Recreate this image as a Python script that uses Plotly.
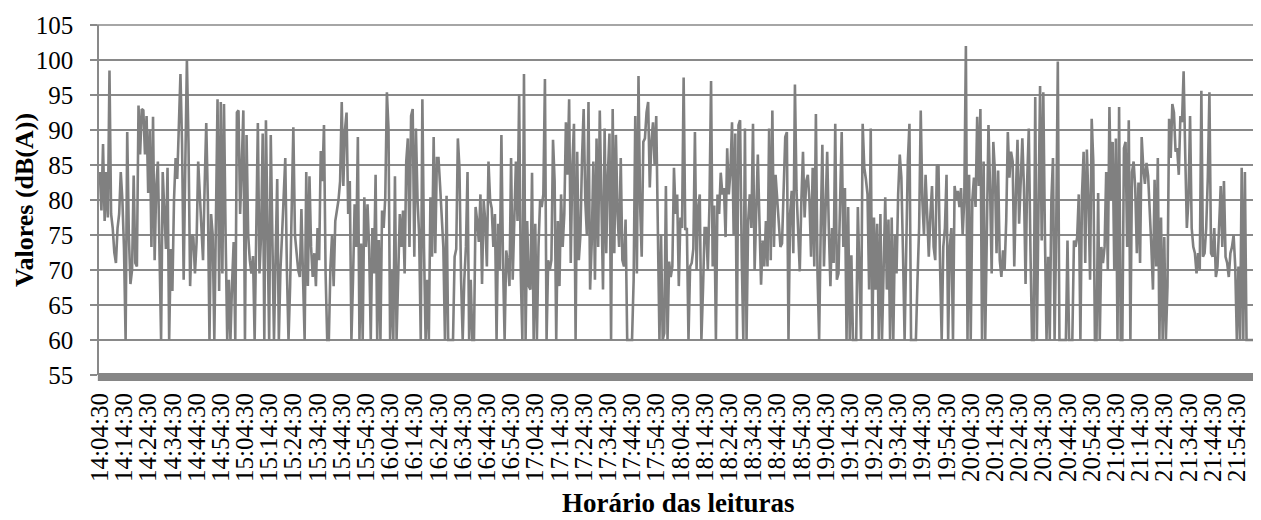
import datetime as dt
import plotly.graph_objects as go

# Noise readings, dB(A), one value every 40 s starting 14:04:30
seg1 = [84, 78.5, 88, 77, 84, 77.5, 98.5, 78, 76, 72.5,
        71, 76, 78, 84, 80, 73, 60, 89.7, 75, 68,
        70, 83.5, 71, 70.5, 93.5, 86.5, 93, 92.8, 86.5, 92,
        81, 90, 73.3, 91.9, 71.4, 82, 85.5, 72, 60, 84,
        78, 73, 84.6, 60, 73, 67, 80, 86, 83, 90,
        98, 88, 68.6, 85, 100, 88, 67.7, 75, 74.7, 69.5,
        74, 85.5, 80, 75, 71.4, 82, 91, 80, 60, 78,
        75, 60, 80, 94.4, 67, 94, 69.5, 93.7, 75, 60,
        68.6, 60, 68, 74, 60, 92.5, 92.8, 78, 85, 92.8,
        60, 89.3, 75, 71.4, 69.5, 72, 60, 80, 91, 69.5,
        75, 89.5, 60, 91.4, 73, 60, 89.3, 75, 60, 72,
        83, 60, 70, 75, 81.5, 86, 70, 60, 67.7, 80,
        90.4, 75]
seg2 = [72.8, 70, 69, 78.7, 69, 60, 84, 67.7, 83.4, 73.3,
        69, 72.4, 67.7, 76, 71.4, 87, 82.7, 90.7, 69.5, 60,
        60, 70.5, 75, 67.7, 77, 78.5, 80, 82.7, 94, 82, 90,
        92.5, 78, 82.7, 60, 68.6, 79.4, 73.3, 89, 60, 73.8,
        60, 80.4, 73.3, 79.4, 73, 60, 76, 69.5, 83.6, 60,
        74.3, 60, 78.5, 76, 80.4, 95.4, 90.2, 60, 70, 60,
        83.4, 60, 69, 78, 73.3, 78.5, 69.5, 85.5, 88.8, 73.3,
        92, 93, 71.9, 90.2, 80, 75, 60, 94.4, 73.3, 60, 68.6,
        60, 80.4, 71.9, 89, 72.4, 86, 86, 82, 78, 73.3, 60,
        80.6, 60, 60, 60, 60, 71.9, 73, 88.8, 84.6, 68.6,
        60, 68.6, 73.3, 84, 60, 68.6, 60, 60, 79, 77, 74,
        80.8, 68, 79.9, 77, 70.5, 85.5, 80]
seg3 = [78.8, 73.3, 78, 60, 76.6, 70, 89.3, 71, 60, 72.8,
        71, 67.7, 86, 68.6, 75.7, 85.5, 77, 95.1, 69.5, 60,
        98, 60, 77, 67.7, 67.2, 83.9, 60, 76.6, 60, 73.3,
        80, 79, 80.8, 97.3, 60, 71.4, 70, 71.4, 88.6, 82.7,
        60, 77, 67.7, 80.8, 73.3, 78, 91.1, 83.6, 94.4, 71,
        85, 90.9, 60, 86.9, 71.4, 75, 86, 93, 80, 75, 94,
        67.2, 73.8, 85.5, 68.6, 88.8, 73.3, 92.8, 80, 67.2, 90.2, 72.4,
        83.6, 89.5, 60, 93, 72.4, 89.3, 78, 73.3, 86, 71.4,
        70.5, 77.2, 60, 60, 60, 60, 68.6, 92, 69.5, 97.7, 79.4,
        71.9, 88.3, 88.8, 92.5, 94, 81.8, 88.3, 91.1, 85, 92, 72.8,
        60, 75, 60, 61, 82, 60, 71.2, 69, 70.5, 84.6, 78,
        80.8, 67.7, 77.5, 76, 97.5, 75.7]
seg4 = [76, 60, 70.5, 71, 73, 89.7, 70, 79, 80.8, 60,
        67.2, 76, 76, 70, 79.4, 97, 70.5, 79.2, 60, 80.8,
        78, 83.9, 80.8, 81.7, 74.7, 87.4, 80.8, 84, 91.1, 75,
        89.5, 60, 90.7, 91.4, 71.9, 60, 90.2, 60, 77, 80.8,
        76, 90.9, 70, 78.5, 86.5, 77, 67.9, 74.2, 70.5, 77,
        70.5, 90.2, 71.4, 92.8, 73.3, 83.6, 80, 76, 73.3, 73.8,
        81.7, 89, 89.7, 60, 78, 81.3, 72.4, 96.5, 81.3, 75, 69.8,
        80, 86.9, 77.5, 82.7, 83.6, 80, 71.9, 84.6, 70.5, 92.3,
        69.5, 60, 76, 87.9, 70.5, 79, 86.9, 76, 67.7, 76,
        71, 90.9, 68.6, 69.5, 78, 89.7, 73.3, 81.7, 60, 79,
        60, 72.1, 60, 60, 60, 79, 68.6, 60, 90.9, 84.6, 83,
        80.8, 67.2, 90.2, 60, 77.5, 67.2, 76.6, 60, 78]
seg5 = [60, 68.6, 80.4, 67.2, 77.2, 60, 77.5, 60, 75, 69.5,
        80.8, 86.5, 83.2, 72.4, 60, 72.8, 85.5, 90.9, 60, 60,
        60, 60, 68.6, 76, 92.8, 80, 75, 83.6, 78, 71.9, 78,
        82, 73.3, 71.4, 84.8, 85, 70.5, 60, 73.3, 76, 83.6, 60,
        73.3, 76, 60, 82, 80, 81.3, 79, 81.7, 75, 80,
        102, 60, 83.6, 60, 80, 83.2, 79, 91.9, 82, 93, 60,
        85.5, 60, 78, 90.7, 81.7, 69.5, 88.3, 84, 72.4, 84.2,
        71.4, 69, 72.8, 70, 77, 89.7, 83.2, 86.9, 85.5, 70.5,
        80.8, 88.6, 76.6, 82, 88.8, 81.7, 68, 82.7, 90.2, 73.3,
        60, 60, 94.7, 60, 76, 96.3, 74.2, 95.4, 75, 60,
        71.9, 60, 80, 86, 60, 75.7, 99.8, 60, 60, 60,
        60, 60, 74.2, 60, 60, 60, 74.2, 73.3]
seg6 = [74.7, 80.8, 60, 80.8, 86.9, 71, 87.2, 80, 68.6, 91.6,
        85.5, 60, 60, 81, 60, 73.3, 71, 73.3, 84, 70,
        93.3, 80, 88.3, 70, 88.8, 60, 93.3, 60, 60, 87.4,
        88.3, 73.3, 91.4, 60, 84, 85.5, 81.7, 72.4, 82.5, 71,
        89, 84.6, 82.3, 85.3, 83.4, 79, 73.3, 67.2, 82.9, 70.5,
        86, 60, 77.5, 60, 74.7, 60,
        67.7, 91.6, 86, 93.7, 92.5, 86.9, 87.4, 83.6, 92, 91.1,
        98.4, 86.5, 76, 80, 92, 76, 73.3,
        72.4, 69.5, 72.4, 70, 95.6, 71.9, 72.4, 76, 83.2, 95.4,
        72.4, 71.9, 76, 69, 70.5, 76, 82, 73.3, 82.7, 71.9,
        71, 69, 72.4, 73.3, 75, 70.5,
        60, 70.5, 60, 84.6, 60, 84, 60, 60, 60, 60, 60, 60, 77]

values = seg1 + seg2 + seg3 + seg4 + seg5 + seg6

start_time = dt.datetime(2000, 1, 1, 14, 4, 30)
step_seconds = 40
times = [(start_time + dt.timedelta(seconds=step_seconds * i)).strftime("%H:%M:%S")
         for i in range(len(values))]

tick_labels = ["14:04:30", "14:14:30", "14:24:30", "14:34:30", "14:44:30", "14:54:30",
               "15:04:30", "15:14:30", "15:24:30", "15:34:30", "15:44:30", "15:54:30",
               "16:04:30", "16:14:30", "16:24:30", "16:34:30", "16:44:30", "16:54:30",
               "17:04:30", "17:14:30", "17:24:30", "17:34:30", "17:44:30", "17:54:30",
               "18:04:30", "18:14:30", "18:24:30", "18:34:30", "18:44:30", "18:54:30",
               "19:04:30", "19:14:30", "19:24:30", "19:34:30", "19:44:30", "19:54:30",
               "20:04:30", "20:14:30", "20:24:30", "20:34:30", "20:44:30", "20:54:30",
               "21:04:30", "21:14:30", "21:24:30", "21:34:30", "21:44:30", "21:54:30"]

y_title = "Valores (dB(A))"
x_title = "Horário das leituras"

FONT = "Liberation Serif, Times New Roman, serif"
GRID = "#898989"

fig = go.Figure()
fig.add_trace(go.Scatter(x=times, y=values, mode="lines",
                         line=dict(color="#808080", width=2.6),
                         showlegend=False))

# the page body adds an 8 px margin, so the figure is 8 px smaller each way
fig.update_layout(
    width=1253, height=512,
    margin=dict(l=91, r=4, t=10, b=145),
    paper_bgcolor="white", plot_bgcolor="white",
    font=dict(family=FONT, color="black"),
    xaxis=dict(type="category", range=[-0.5, len(values) - 0.5],
               tickmode="array", tickvals=tick_labels, ticktext=tick_labels,
               tickangle=-90, tickfont=dict(size=25, family=FONT),
               showgrid=False, showline=False, ticks="", zeroline=False,
               ticklabelstandoff=12),
    yaxis=dict(range=[55, 105], dtick=5, tick0=55,
               tickfont=dict(size=25, family=FONT),
               showgrid=True, gridcolor=GRID, gridwidth=1.5,
               showline=True, linecolor=GRID, linewidth=1.5,
               ticks="outside", ticklen=7, tickcolor=GRID, tickwidth=1.5,
               zeroline=False, ticklabelstandoff=12,
               ticklabeloverflow="allow"),
    shapes=[dict(type="rect", xref="paper", x0=-0.001, x1=1,
                 yref="paper", ysizemode="pixel", yanchor=0, y0=-6, y1=2,
                 fillcolor="#868686", line=dict(width=0), layer="above"),
            dict(type="line", xref="paper", x0=-0.006, x1=1,
                 yref="paper", y0=1, y1=1,
                 line=dict(color=GRID, width=1.5), layer="below")],
    annotations=[
        dict(text="<b>" + y_title + "</b>", xref="paper", yref="paper",
             x=-0.0648, y=0.5, xanchor="center", yanchor="middle",
             textangle=-90, showarrow=False, font=dict(size=26, family=FONT)),
        dict(text="<b>" + x_title + "</b>", xref="paper", yref="paper",
             x=0.5, y=-0.365, xanchor="center", yanchor="middle",
             showarrow=False, font=dict(size=27, family=FONT)),
    ],
)

fig.write_html("out.html")
